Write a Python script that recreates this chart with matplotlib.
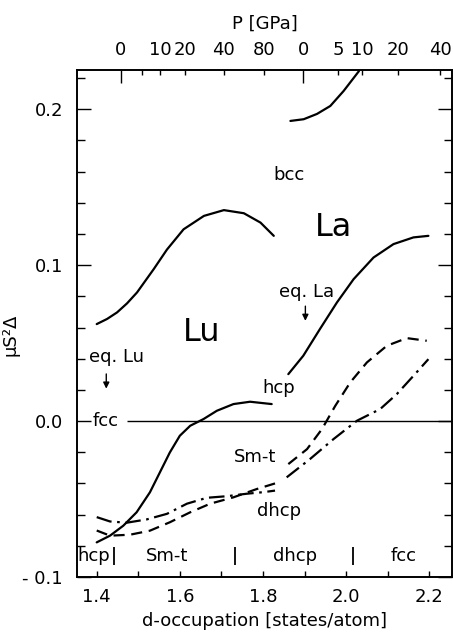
import matplotlib
matplotlib.use("Agg")
import matplotlib.pyplot as plt
from matplotlib.ticker import MultipleLocator, FixedLocator

# Lu, bcc - fcc (solid, upper left)
lu_bcc_x = [1.400, 1.425, 1.449, 1.473, 1.497, 1.537, 1.569, 1.609, 1.658, 1.706, 1.754, 1.794, 1.826]
lu_bcc_y = [0.0622, 0.0655, 0.0697, 0.0755, 0.0825, 0.0974, 0.110, 0.123, 0.1316, 0.1353, 0.1333,
            0.1273, 0.1188]

# Lu, hcp - fcc (solid)
lu_hcp_x = [1.400, 1.432, 1.464, 1.496, 1.528, 1.552, 1.576, 1.600, 1.625, 1.657, 1.689, 1.729, 1.769, 1.821]
lu_hcp_y = [-0.0778, -0.0735, -0.0671, -0.0585, -0.0457, -0.0329, -0.0201, -0.0094, -0.0030,
            0.0013, 0.0066, 0.0109, 0.0124, 0.0109]

# Lu, Sm-t - fcc (dashed)
lu_smt_x = [1.400, 1.432, 1.480, 1.528, 1.576, 1.625, 1.673, 1.729, 1.785, 1.829]
lu_smt_y = [-0.0702, -0.0735, -0.0729, -0.0703, -0.0649, -0.0585, -0.0530, -0.0489, -0.0436, -0.0400]

# Lu, dhcp - fcc (dash-dot)
lu_dhcp_x = [1.400, 1.432, 1.472, 1.520, 1.569, 1.617, 1.665, 1.713, 1.761, 1.801, 1.829]
lu_dhcp_y = [-0.0616, -0.0644, -0.0652, -0.0631, -0.0595, -0.0530, -0.0492, -0.0482, -0.0466,
             -0.0456, -0.0446]

# La, bcc - fcc (solid, top)
la_bcc_x = [1.866, 1.898, 1.930, 1.962, 1.994, 2.031]
la_bcc_y = [0.1925, 0.1936, 0.1970, 0.2021, 0.2117, 0.2245]

# La, hcp - fcc (solid)
la_hcp_x = [1.861, 1.897, 1.937, 1.978, 2.018, 2.066, 2.114, 2.162, 2.198]
la_hcp_y = [0.0301, 0.0419, 0.0590, 0.0761, 0.0910, 0.1049, 0.1135, 0.1178, 0.1188]

# La, Sm-t - fcc (dashed)
la_smt_x = [1.861, 1.906, 1.942, 1.974, 2.010, 2.050, 2.098, 2.146, 2.194]
la_smt_y = [-0.0276, -0.0180, -0.0051, 0.0098, 0.0248, 0.0376, 0.0483, 0.0532, 0.0515]

# La, dhcp - fcc (dash-dot)
la_dhcp_x = [1.857, 1.913, 1.970, 2.026, 2.082, 2.122, 2.162, 2.198]
la_dhcp_y = [-0.0361, -0.0244, -0.0115, 0.0002, 0.0077, 0.0173, 0.0290, 0.0397]

# pressure scale on top (position in d-occupation, label in GPa)
p_major_pos = [1.458, 1.897]
p_minor_pos = [1.508, 1.552, 1.613, 1.706, 1.803, 1.981, 2.039, 2.125, 2.226]
p_label_pos = [1.458, 1.552, 1.613, 1.706, 1.803, 1.897, 1.981, 2.039, 2.125, 2.226]
p_labels = ["0", "10", "20", "40", "80", "0", "5", "10", "20", "40"]

# observed phase sequence along the bottom
phase_names = ["hcp", "Sm-t", "dhcp", "fcc"]
phase_text_x = [1.393, 1.569, 1.878, 2.139]
phase_bounds = [1.441, 1.733, 2.017]

plt.rcParams['font.family'] = ['DejaVu Sans']

fig = plt.figure(figsize=(4.53, 6.33), dpi=100)
ax = fig.add_axes([0.170, 0.0885, 0.828, 0.8005])

lw = 1.6
dash = (0, (5, 3))
dashdot = (0, (7, 2.5, 1.2, 2.5))
style = dict(color='black', lw=lw, solid_joinstyle='round', solid_capstyle='round')
ax.plot(lu_bcc_x, lu_bcc_y, **style)
ax.plot(lu_hcp_x, lu_hcp_y, **style)
ax.plot(lu_smt_x, lu_smt_y, linestyle=dash, **style)
ax.plot(lu_dhcp_x, lu_dhcp_y, linestyle=dashdot, **style)
ax.plot(la_bcc_x, la_bcc_y, **style)
ax.plot(la_hcp_x, la_hcp_y, **style)
ax.plot(la_smt_x, la_smt_y, linestyle=dash, **style)
ax.plot(la_dhcp_x, la_dhcp_y, linestyle=dashdot, **style)

ax.hlines(0.0, 1.473, 2.255, color='black', lw=1.0)

ax.set_xlim(1.3526, 2.255)
ax.set_ylim(-0.1, 0.225)

# labels inside the plot
fs = 13
ax.text(1.862, 0.158, "bcc", fontsize=fs, ha='center', va='center')
ax.text(1.970, 0.124, "La", fontsize=23, ha='center', va='center')
ax.text(1.653, 0.057, "Lu", fontsize=23, ha='center', va='center')
ax.text(1.904, 0.0825, "eq. La", fontsize=fs, ha='center', va='center')
ax.annotate("", xy=(1.902, 0.0625), xytext=(1.902, 0.0755),
            arrowprops=dict(arrowstyle='-|>', color='black', lw=1.0, mutation_scale=9))
ax.text(1.447, 0.041, "eq. Lu", fontsize=fs, ha='center', va='center')
ax.annotate("", xy=(1.423, 0.019), xytext=(1.423, 0.032),
            arrowprops=dict(arrowstyle='-|>', color='black', lw=1.0, mutation_scale=9))
ax.text(1.421, 0.0, "fcc", fontsize=fs, ha='center', va='center')
ax.text(1.838, 0.0215, "hcp", fontsize=fs, ha='center', va='center')
ax.text(1.782, -0.023, "Sm-t", fontsize=fs, ha='center', va='center')
ax.text(1.838, -0.0575, "dhcp", fontsize=fs, ha='center', va='center')

for name, xp in zip(phase_names, phase_text_x):
    ax.text(xp, -0.0863, name, fontsize=fs, ha='center', va='center')
ax.vlines(phase_bounds, -0.0925, -0.081, color='black', lw=1.3)

# axes and ticks
ax.yaxis.set_major_locator(FixedLocator([-0.1, 0.0, 0.1, 0.2]))
ax.set_yticklabels(["- 0.1", "0.0", "0.1", "0.2"])
ax.yaxis.set_minor_locator(MultipleLocator(0.02))
ax.xaxis.set_major_locator(MultipleLocator(0.2))
ax.xaxis.set_minor_locator(MultipleLocator(0.1))
ax.xaxis.set_major_formatter(plt.FuncFormatter(lambda v, p: f"{v:.1f}"))
ax.tick_params(axis='y', which='major', direction='in', length=10, width=1.0,
               labelsize=fs, pad=10, right=True)
ax.tick_params(axis='y', which='minor', direction='in', length=6, width=1.0, right=True)
ax.tick_params(axis='x', which='both', direction='in', length=4, width=1.0,
               labelsize=fs, pad=8)
ax.set_xlabel("d-occupation [states/atom]", fontsize=fs, labelpad=4)
ax.set_ylabel("μS²Δ", fontsize=fs)
ax.yaxis.set_label_coords(-0.152, 0.477)

top = ax.twiny()
top.set_xlim(ax.get_xlim())
top.xaxis.set_major_locator(FixedLocator(p_major_pos))
top.xaxis.set_minor_locator(FixedLocator(p_minor_pos))
top.set_xticklabels([])
top.tick_params(axis='x', which='major', direction='in', length=9, width=1.0)
top.tick_params(axis='x', which='minor', direction='in', length=3.5, width=1.0)
for pos, lab in zip(p_label_pos, p_labels):
    top.text(pos, 1.022, lab, fontsize=fs, ha='center', va='bottom',
             transform=top.get_xaxis_transform())
top.text(0.5, 1.075, "P [GPa]", fontsize=fs, ha='center', va='bottom',
         transform=top.transAxes)

for a in (ax, top):
    for s in a.spines.values():
        s.set_linewidth(1.2)

fig.savefig("out.png", dpi=100)
